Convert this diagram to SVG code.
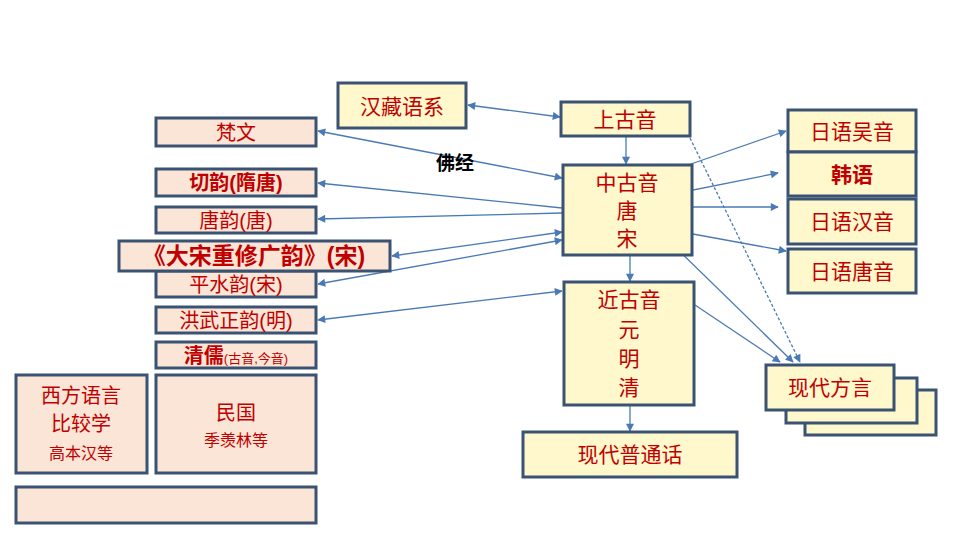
<svg xmlns="http://www.w3.org/2000/svg" width="960" height="540" viewBox="0 0 960 540">
<style>
.p{fill:#fbe5d6;stroke:#3b5372;stroke-width:3}
.y{fill:#fff8cc;stroke:#3b5372;stroke-width:3}
text{font-family:"Liberation Sans","Noto Sans CJK SC",sans-serif;fill:#c00000;text-anchor:middle}
.c{stroke:#4a7ab5;stroke-width:1.3;fill:none;marker-end:url(#a)}
.d{marker-start:url(#b)}
</style>
<defs>
<marker id="a" viewBox="0 0 10 10" refX="9" refY="5" markerWidth="10" markerHeight="8" markerUnits="userSpaceOnUse" orient="auto"><path d="M0,0L10,5L0,10z" fill="#4a7ab5"/></marker>
<marker id="b" viewBox="0 0 10 10" refX="1" refY="5" markerWidth="10" markerHeight="8" markerUnits="userSpaceOnUse" orient="auto"><path d="M10,0L0,5L10,10z" fill="#4a7ab5"/></marker>
</defs>
<rect width="960" height="540" fill="#fff"/>
<g id="connectors">
<line class="c d" x1="468" y1="105" x2="560" y2="117"/>
<line class="c" x1="626" y1="137" x2="626" y2="164"/>
<line class="c d" x1="318" y1="131" x2="562" y2="178"/>
<line class="c" x1="562" y1="208" x2="318" y2="183"/>
<line class="c" x1="562" y1="213" x2="318" y2="219"/>
<line class="c d" x1="392" y1="256" x2="562" y2="232"/>
<line class="c d" x1="318" y1="284" x2="562" y2="240"/>
<line class="c d" x1="318" y1="320" x2="562" y2="291"/>
<line class="c" x1="630" y1="256" x2="630" y2="281"/>
<line class="c" x1="630" y1="406" x2="630" y2="431"/>
<line class="c" x1="668" y1="172" x2="786" y2="131"/>
<line class="c" x1="668" y1="195" x2="778" y2="173"/>
<line class="c" x1="668" y1="207" x2="778" y2="207"/>
<line class="c" x1="660" y1="228" x2="786" y2="251"/>
<line class="c" x1="668" y1="240" x2="793" y2="362"/>
<line class="c" x1="695" y1="305" x2="780" y2="362"/>
<line class="c" x1="690" y1="138" x2="800" y2="362" stroke-dasharray="3,2"/>
</g>
<g id="n-hanzang"><rect class="y" x="338" y="83" width="128" height="45"/><text x="402" y="114" font-size="21">汉藏语系</text></g>
<g id="n-shanggu"><rect class="y" x="561" y="102" width="129" height="34"/><text x="625" y="127" font-size="21">上古音</text></g>
<g id="n-fanwen"><rect class="p" x="156" y="118" width="160" height="28"/><text x="236" y="140" font-size="20">梵文</text></g>
<g id="n-qieyun"><rect class="p" x="156" y="169" width="160" height="27"/><text x="236" y="190" font-size="20" font-weight="bold">切韵(隋唐)</text></g>
<g id="n-tangyun"><rect class="p" x="156" y="207" width="160" height="26"/><text x="236" y="228" font-size="20">唐韵(唐)</text></g>
<g id="n-pingshui"><rect class="p" x="156" y="271" width="160" height="26"/><text x="236" y="292" font-size="20">平水韵(宋)</text></g>
<g id="n-dasong"><rect class="p" x="119" y="241" width="271" height="30"/><text x="254" y="264" font-size="23" font-weight="bold">《大宋重修广韵》(宋)</text></g>
<g id="n-hongwu"><rect class="p" x="156" y="307" width="160" height="26"/><text x="236" y="328" font-size="20">洪武正韵(明)</text></g>
<g id="n-qingru"><rect class="p" x="156" y="342" width="160" height="26"/><text x="236" y="363"><tspan font-size="20" font-weight="bold">清儒</tspan><tspan font-size="13">(古音,今音)</tspan></text></g>
<g id="n-xifang"><rect class="p" x="16" y="375" width="131" height="98"/><text x="81" y="403" font-size="20">西方语言</text><text x="81" y="431" font-size="20">比较学</text><text x="81" y="459" font-size="16" font-family="'Noto Sans CJK SC',serif">高本汉等</text></g>
<g id="n-minguo"><rect class="p" x="156" y="375" width="160" height="98"/><text x="236" y="420" font-size="20">民国</text><text x="236" y="446" font-size="16">季羡林等</text></g>
<g id="n-blank"><rect class="p" x="16" y="487" width="300" height="36"/></g>
<g id="n-zhonggu"><rect class="y" x="563" y="165" width="129" height="90"/><text x="627" y="190" font-size="21">中古音</text><text x="627" y="218" font-size="21">唐</text><text x="627" y="246" font-size="21">宋</text></g>
<g id="n-jingu"><rect class="y" x="564" y="282" width="130" height="123"/><text x="629" y="307" font-size="21">近古音</text><text x="629" y="337" font-size="21">元</text><text x="629" y="366" font-size="21">明</text><text x="629" y="395" font-size="21">清</text></g>
<g id="n-putonghua"><rect class="y" x="523" y="432" width="214" height="45"/><text x="630" y="462" font-size="21">现代普通话</text></g>
<g id="n-wuyin"><rect class="y" x="788" y="110" width="128" height="42"/><text x="852" y="139" font-size="21">日语吴音</text></g>
<g id="n-hanyu"><rect class="y" x="788" y="152" width="128" height="44"/><text x="852" y="182" font-size="21" font-weight="bold">韩语</text></g>
<g id="n-hanyin"><rect class="y" x="788" y="199" width="128" height="45"/><text x="852" y="229" font-size="21">日语汉音</text></g>
<g id="n-tangyin"><rect class="y" x="788" y="249" width="128" height="44"/><text x="852" y="279" font-size="21">日语唐音</text></g>
<g id="n-fangyan"><rect class="y" x="805" y="390" width="131" height="45"/><rect class="y" x="786" y="378" width="131" height="45"/><rect class="y" x="766" y="365" width="128" height="45"/><text x="830" y="395" font-size="21">现代方言</text></g>
<text x="455" y="170" font-size="19" font-weight="bold" style="fill:#000">佛经</text>
</svg>
